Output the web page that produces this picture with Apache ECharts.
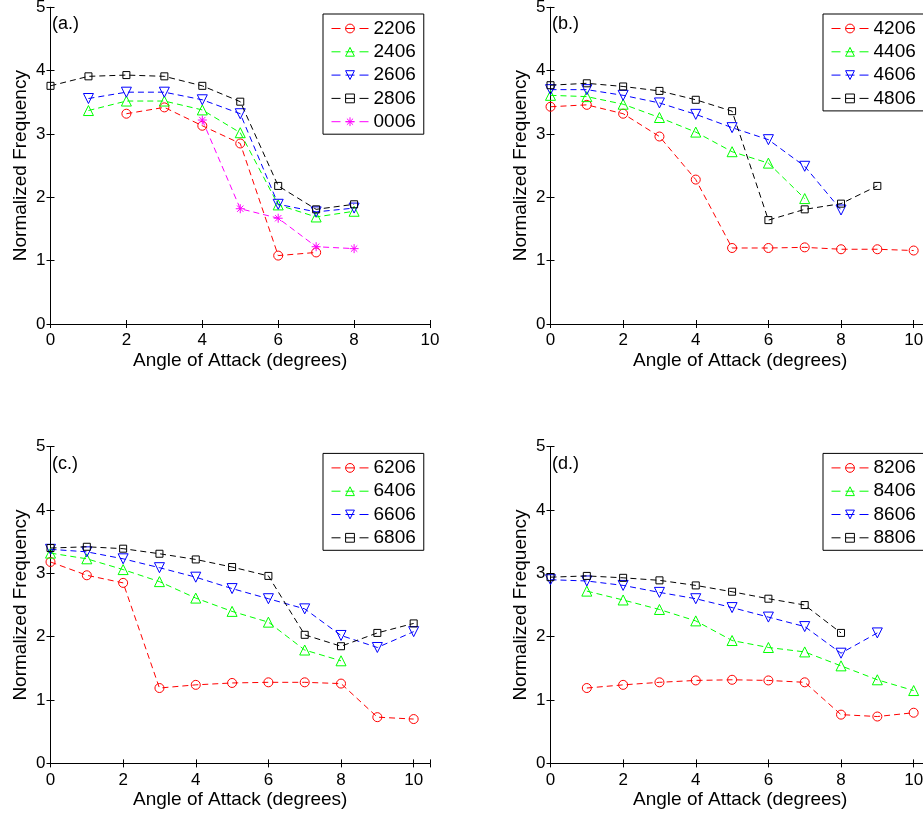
<!DOCTYPE html>
<html>
<head>
<meta charset="utf-8">
<script src="https://cdn.jsdelivr.net/npm/echarts@6/dist/echarts.min.js"></script>
<style>html,body{margin:0;padding:0;background:#fff;}#c{width:923px;height:816px;}</style>
</head>
<body>
<div id="c"></div>
<script>
// ---- data ----
const angles = [0, 1, 2, 3, 4, 5, 6, 7, 8, 9, 10];
const xTickLabels = ['0', '2', '4', '6', '8', '10'];
const yTickLabels = ['0', '1', '2', '3', '4', '5'];
const panelTags = ['(a.)', '(b.)', '(c.)', '(d.)'];

// panel (a)
const namesA = ['2206', '2406', '2606', '2806', '0006'];
const v2206 = [null, null, 3.32, 3.42, 3.13, 2.85, 1.08, 1.13, null, null, null];
const v2406 = [null, 3.37, 3.52, 3.52, 3.38, 3.02, 1.88, 1.69, 1.78, null, null];
const v2606 = [null, 3.56, 3.66, 3.66, 3.54, 3.32, 1.89, 1.77, 1.83, null, null];
const v2806 = [3.76, 3.91, 3.93, 3.91, 3.76, 3.51, 2.18, 1.81, 1.89, null, null];
const v0006 = [null, null, null, null, 3.22, 1.82, 1.67, 1.22, 1.19, null, null];
// panel (b)
const namesB = ['4206', '4406', '4606', '4806'];
const v4206 = [3.43, 3.46, 3.32, 2.96, 2.28, 1.20, 1.20, 1.21, 1.18, 1.18, 1.16];
const v4406 = [3.61, 3.59, 3.47, 3.26, 3.03, 2.72, 2.54, 1.98, null, null, null];
const v4606 = [3.70, 3.70, 3.61, 3.49, 3.31, 3.10, 2.91, 2.49, 1.80, null, null];
const v4806 = [3.77, 3.80, 3.75, 3.68, 3.54, 3.36, 1.64, 1.81, 1.90, 2.18, null];
// panel (c)
const namesC = ['6206', '6406', '6606', '6806'];
const v6206 = [3.18, 2.97, 2.85, 1.19, 1.24, 1.27, 1.28, 1.28, 1.26, 0.73, 0.70];
const v6406 = [3.32, 3.23, 3.06, 2.87, 2.61, 2.40, 2.23, 1.79, 1.62, null, null];
const v6606 = [3.38, 3.34, 3.23, 3.09, 2.94, 2.76, 2.60, 2.44, 2.02, 1.83, 2.08];
const v6806 = [3.40, 3.42, 3.39, 3.31, 3.22, 3.10, 2.96, 2.03, 1.85, 2.06, 2.21];
// panel (d)
const namesD = ['8206', '8406', '8606', '8806'];
const v8206 = [null, 1.19, 1.24, 1.28, 1.31, 1.32, 1.31, 1.28, 0.77, 0.74, 0.80];
const v8406 = [null, 2.72, 2.58, 2.43, 2.25, 1.94, 1.83, 1.76, 1.54, 1.32, 1.15];
const v8606 = [2.90, 2.88, 2.81, 2.70, 2.60, 2.46, 2.31, 2.16, 1.74, 2.06, null];
const v8806 = [2.94, 2.96, 2.93, 2.89, 2.81, 2.71, 2.60, 2.50, 2.06, null, null];

const xMaxPerPanel = [10, 10.45, 10.45, 10.45];

// ---- styling ----
const FONT = 'Liberation Sans, Arial, Helvetica, sans-serif';
const styles = {
  red:     {color: '#ff0000', symbol: 'circle', size: 9, rotate: 0},
  green:   {color: '#00ff00', symbol: 'triangle', size: 10, rotate: 0},
  blue:    {color: '#0000ff', symbol: 'triangle', size: 10, rotate: 180},
  black:   {color: '#000000', symbol: 'rect', size: 7, rotate: 0},
  magenta: {color: '#ff00ff', symbol: 'path://M0,-1L0,1M-1,0L1,0M-0.7,-0.7L0.7,0.7M-0.7,0.7L0.7,-0.7', size: 9, rotate: 0}
};
const panels = [
  {names: namesA, values: [v2206, v2406, v2606, v2806, v0006], st: ['red','green','blue','black','magenta']},
  {names: namesB, values: [v4206, v4406, v4606, v4806], st: ['red','green','blue','black']},
  {names: namesC, values: [v6206, v6406, v6606, v6806], st: ['red','green','blue','black']},
  {names: namesD, values: [v8206, v8406, v8606, v8806], st: ['red','green','blue','black']}
];
const gridPos = [
  {left: 50.5, top: 7.3},
  {left: 550.5, top: 7.3},
  {left: 50.5, top: 446.7},
  {left: 550.5, top: 446.7}
];
const GW = 379.5, GH = 316.7;

const grids = [], xAxes = [], yAxes = [], legends = [], series = [], graphics = [];
const axisLineStyle = {lineStyle: {color: '#000', width: 1}};
const fmtX = v => (Math.abs(v - Math.round(v)) < 1e-6 && xTickLabels.indexOf(String(v)) >= 0) ? String(v) : '';
const fmtY = v => (yTickLabels.indexOf(String(v)) >= 0) ? String(v) : '';

panels.forEach((p, i) => {
  const g = gridPos[i];
  grids.push({left: g.left, top: g.top, width: GW, height: GH, outerBoundsMode: 'none', containLabel: false});
  const xmax = xMaxPerPanel[i];
  xAxes.push({
    type: 'value', gridIndex: i, position: 'bottom', min: 0, max: xmax, interval: 2,
    axisLine: axisLineStyle, splitLine: {show: false},
    axisTick: {inside: true, length: 4, lineStyle: {color: '#000'}},
    axisLabel: {color: '#000', fontFamily: FONT, fontSize: 17, margin: 8, formatter: fmtX, showMaxLabel: true, showMinLabel: true},
    name: 'Angle of Attack (degrees)', nameLocation: 'middle', nameGap: 27,
    nameTextStyle: {color: '#000', fontFamily: FONT, fontSize: 19}
  });
  xAxes.push({
    type: 'value', gridIndex: i, position: 'top', min: 0, max: xmax, interval: 2,
    axisLine: axisLineStyle, splitLine: {show: false},
    axisTick: {inside: true, length: 4, lineStyle: {color: '#000'}},
    axisLabel: {show: false}
  });
  yAxes.push({
    type: 'value', gridIndex: i, position: 'left', min: 0, max: 5, interval: 1,
    axisLine: {show: true, lineStyle: {color: '#000', width: 1}}, splitLine: {show: false},
    axisTick: {show: true, inside: true, length: 4, lineStyle: {color: '#000'}},
    axisLabel: {color: '#000', fontFamily: FONT, fontSize: 17, margin: 5, formatter: fmtY},
    name: 'Normalized Frequency', nameLocation: 'middle', nameGap: 20, nameRotate: 90,
    nameTextStyle: {color: '#000', fontFamily: FONT, fontSize: 19}
  });
  yAxes.push({
    type: 'value', gridIndex: i, position: 'right', min: 0, max: 5, interval: 1,
    axisLine: {show: true, lineStyle: {color: '#000', width: 1}}, splitLine: {show: false},
    axisTick: {show: true, inside: true, length: 4, lineStyle: {color: '#000'}},
    axisLabel: {show: false}
  });
  legends.push({
    show: true, orient: 'vertical',
    left: g.left + 272.5, top: g.top + 6.7,
    data: p.names,
    backgroundColor: '#fff', borderColor: '#000', borderWidth: 1, borderRadius: 0,
    padding: [5, 8, 3, 8], itemGap: 4.3, itemWidth: 37, itemHeight: 11,
    selectedMode: false,
    lineStyle: {width: 1, type: [9, 5]},
    itemStyle: {borderWidth: 1},
    textStyle: {color: '#000', fontFamily: FONT, fontSize: 19}
  });
  p.names.forEach((nm, k) => {
    const s = styles[p.st[k]];
    const vals = p.values[k];
    const data = angles.map((a, j) => [a, vals[j]]).filter(d => d[1] !== null && d[1] !== undefined);
    series.push({
      type: 'line', name: nm, xAxisIndex: 2 * i, yAxisIndex: 2 * i,
      data: data,
      symbol: s.symbol, symbolSize: s.size, symbolRotate: s.rotate, showAllSymbol: true,
      lineStyle: {color: s.color, width: 1, type: [6, 4]},
      itemStyle: {color: 'rgba(255,255,255,0)', borderColor: s.color, borderWidth: 1},
      emphasis: {disabled: true},
      z: 2 + k
    });
  });
  graphics.push({
    type: 'text', left: g.left + 1.5, top: g.top + 8,
    style: {text: panelTags[i], fill: '#000', font: '18px ' + FONT}
  });
});

const chart = echarts.init(document.getElementById('c'), null, {renderer: 'canvas'});
chart.setOption({
  animation: false,
  backgroundColor: '#fff',
  grid: grids, xAxis: xAxes, yAxis: yAxes, legend: legends, series: series, graphic: graphics
});
</script>
</body>
</html>
